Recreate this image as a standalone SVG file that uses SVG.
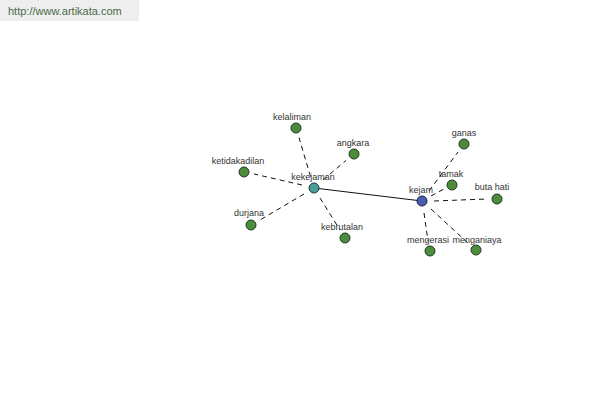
<svg xmlns="http://www.w3.org/2000/svg" width="600" height="400" viewBox="0 0 600 400">
<style>
.lbl{font-family:"Liberation Sans",Arial,sans-serif;font-size:9px;fill:#333;text-anchor:middle}
.leaf{fill:#4c8c3c;stroke:#1f3a1a;stroke-width:1}
.d{stroke:#111;stroke-width:1;stroke-dasharray:5,4;fill:none}
</style>
<rect width="600" height="400" fill="#fff"/>
<rect x="0" y="0" width="139" height="21" fill="#eeeeee"/>
<text x="8" y="15" style="font-family:'Liberation Sans',Arial,sans-serif;font-size:11px;fill:#4a6a48">http://www.artikata.com</text>
<g id="connectors">
<line x1="314" y1="188" x2="422" y2="201" stroke="#111" stroke-width="1"/>
<line class="d" x1="310.5" y1="176.5" x2="299" y2="137.6"/>
<line class="d" x1="323" y1="180" x2="346" y2="160.5"/>
<line class="d" x1="302" y1="185" x2="254" y2="174"/>
<line class="d" x1="304" y1="194" x2="260" y2="220"/>
<line class="d" x1="320" y1="198" x2="340" y2="230"/>
<line class="d" x1="429" y1="191" x2="458" y2="152"/>
<line class="d" x1="431" y1="196" x2="444" y2="189"/>
<line class="d" x1="434" y1="201" x2="487" y2="199"/>
<line class="d" x1="424" y1="213" x2="428" y2="241"/>
<line class="d" x1="431" y1="209" x2="469" y2="244"/>
</g>
<g id="kekejaman"><circle cx="314" cy="188" r="5" fill="#4a9c9a" stroke="#1a3a3a"/><text class="lbl" x="313" y="180">kekejaman</text></g>
<g id="kejam"><circle cx="422" cy="201" r="5" fill="#4b5cab" stroke="#1a1f4a"/><text class="lbl" x="421" y="193">kejam</text></g>
<g id="kelaliman"><circle class="leaf" cx="296" cy="128" r="5"/><text class="lbl" x="292" y="120">kelaliman</text></g>
<g id="angkara"><circle class="leaf" cx="354" cy="154" r="5"/><text class="lbl" x="353" y="146">angkara</text></g>
<g id="ketidakadilan"><circle class="leaf" cx="244" cy="172" r="5"/><text class="lbl" x="238" y="164">ketidakadilan</text></g>
<g id="durjana"><circle class="leaf" cx="251" cy="225" r="5"/><text class="lbl" x="249" y="216">durjana</text></g>
<g id="kebrutalan"><circle class="leaf" cx="345" cy="238" r="5"/><text class="lbl" x="342" y="230">kebrutalan</text></g>
<g id="ganas"><circle class="leaf" cx="464" cy="144" r="5"/><text class="lbl" x="464" y="136">ganas</text></g>
<g id="tamak"><circle class="leaf" cx="452" cy="185" r="5"/><text class="lbl" x="451" y="177">tamak</text></g>
<g id="buta-hati"><circle class="leaf" cx="497" cy="199" r="5"/><text class="lbl" x="492" y="190">buta hati</text></g>
<g id="mengerasi"><circle class="leaf" cx="430" cy="251" r="5"/><text class="lbl" x="428" y="243">mengerasi</text></g>
<g id="menganiaya"><circle class="leaf" cx="476" cy="250" r="5"/><text class="lbl" x="477" y="243">menganiaya</text></g>
</svg>
